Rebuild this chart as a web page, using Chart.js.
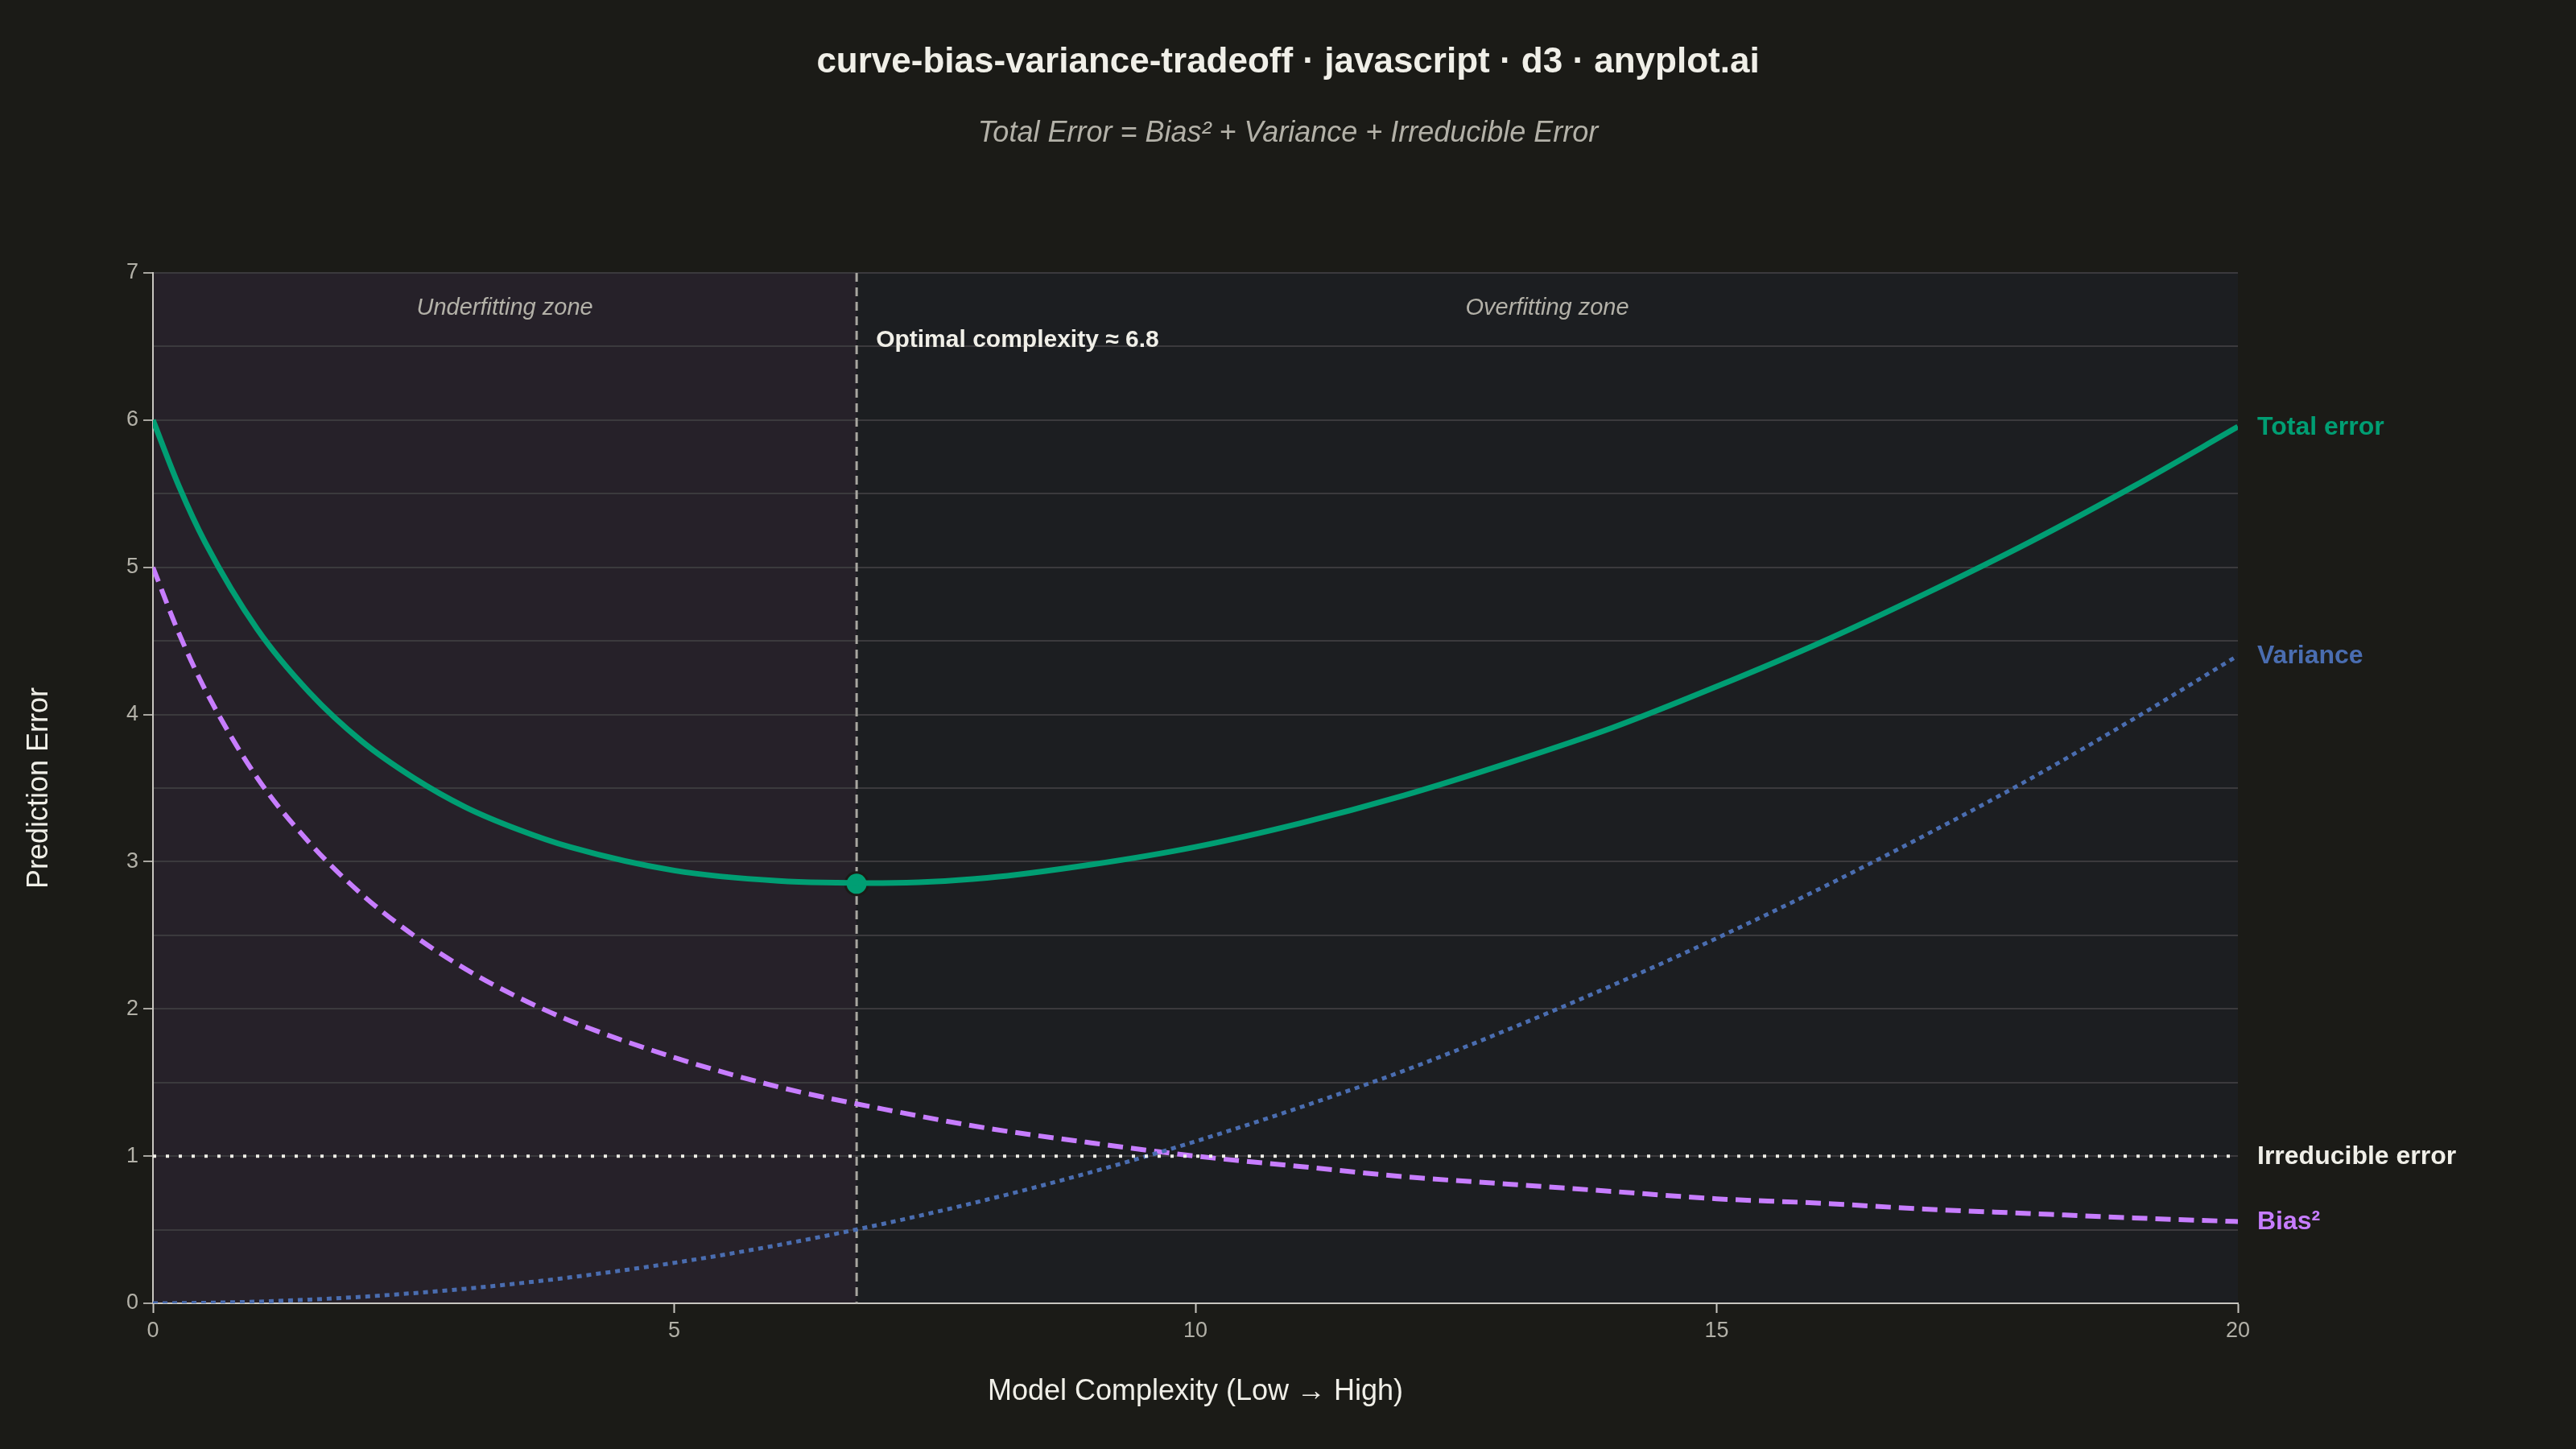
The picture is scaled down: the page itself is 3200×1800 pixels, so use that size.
<!DOCTYPE html>
<html>
<head>
<meta charset="utf-8">
<script src="https://cdn.jsdelivr.net/npm/chart.js@4.4.1/dist/chart.umd.min.js"></script>
<style>
html,body{margin:0;padding:0;background:#1b1b17;}
canvas{display:block;}
</style>
</head>
<body>
<canvas id="c" width="3200" height="1800"></canvas>
<script>
// ---- data ----
const complexity = [0, 0.25, 0.5, 1, 1.5, 2, 2.5, 3, 3.5, 4, 5, 6, 7, 8, 9, 10, 11, 12, 13, 14, 15, 16, 17, 18, 19, 20];
const biasSq     = [5.00, 4.55, 4.17, 3.57, 3.13, 2.78, 2.50, 2.27, 2.08, 1.92, 1.67, 1.47, 1.32, 1.19, 1.09, 1.00, 0.93, 0.86, 0.81, 0.76, 0.71, 0.68, 0.64, 0.61, 0.58, 0.555];
const variance   = [0.00, 0.001, 0.003, 0.011, 0.025, 0.044, 0.069, 0.099, 0.135, 0.176, 0.275, 0.396, 0.539, 0.704, 0.891, 1.10, 1.33, 1.58, 1.86, 2.16, 2.48, 2.82, 3.18, 3.56, 3.97, 4.40];
const totalError = [6.00, 5.55, 5.17, 4.58, 4.15, 3.82, 3.57, 3.37, 3.22, 3.10, 2.94, 2.87, 2.855, 2.89, 2.98, 3.10, 3.26, 3.45, 3.67, 3.91, 4.19, 4.49, 4.82, 5.17, 5.55, 5.955];
const irreducibleX = [0, 20];
const irreducible  = [1, 1];
const optimalX = 6.75;
const optimalY = 2.85;
const optimalLabel = '6.8';
const xTicks = [0, 5, 10, 15, 20];
const yTicks = [0, 1, 2, 3, 4, 5, 6, 7];

const seriesNames = ['Total error', 'Variance', 'Irreducible error', 'Bias²'];
const titleText = 'curve-bias-variance-tradeoff · javascript · d3 · anyplot.ai';
const subtitleText = 'Total Error = Bias² + Variance + Irreducible Error';

// ---- styles ----
const FONT = "'Liberation Sans', Arial, sans-serif";
const BG = '#1b1b17';
const C_TOTAL = '#009e73';
const C_BIAS = '#c77dff';
const C_VAR = '#4a6db0';
const C_IRR = '#f0efe8';
const C_TEXT = '#f0efe8';
const C_MUTED = '#b3b1a8';

const pts = (xs, ys) => xs.map((x, i) => ({x: x, y: ys[i]}));

const bgPlugin = {
  id: 'bgzones',
  beforeDraw(chart) {
    const ctx = chart.ctx, a = chart.chartArea, xs = chart.scales.x;
    ctx.save();
    ctx.fillStyle = BG;
    ctx.fillRect(0, 0, chart.width, chart.height);
    const xo = xs.getPixelForValue(optimalX);
    ctx.fillStyle = '#262129';
    ctx.fillRect(a.left, a.top, xo - a.left, a.bottom - a.top);
    ctx.fillStyle = '#1c1e21';
    ctx.fillRect(xo, a.top, a.right - xo, a.bottom - a.top);
    ctx.restore();
  },
  beforeDatasetsDraw(chart) {
    const ctx = chart.ctx, a = chart.chartArea, xs = chart.scales.x;
    const xo = xs.getPixelForValue(optimalX);
    ctx.save();
    ctx.strokeStyle = '#a8a6a0';
    ctx.lineWidth = 3;
    ctx.setLineDash([11, 7]);
    ctx.beginPath();
    ctx.moveTo(xo, a.top);
    ctx.lineTo(xo, a.bottom);
    ctx.stroke();
    ctx.restore();
  },
  afterDraw(chart) {
    const ctx = chart.ctx, a = chart.chartArea, xs = chart.scales.x, ys = chart.scales.y;
    ctx.save();
    // titles
    ctx.textAlign = 'center';
    ctx.textBaseline = 'middle';
    ctx.fillStyle = C_TEXT;
    ctx.font = 'bold 44px ' + FONT;
    ctx.fillText(titleText, 1600, 78);
    ctx.fillStyle = C_MUTED;
    ctx.font = 'italic 36px ' + FONT;
    ctx.fillText(subtitleText, 1600, 166);
    // axis titles
    ctx.fillStyle = C_TEXT;
    ctx.font = '36px ' + FONT;
    ctx.fillText('Model Complexity (Low → High)', (a.left + a.right) / 2, 1729);
    ctx.save();
    ctx.translate(49, (a.top + a.bottom) / 2);
    ctx.rotate(-Math.PI / 2);
    ctx.fillText('Prediction Error', 0, 0);
    ctx.restore();
    // zone labels
    const xo = xs.getPixelForValue(optimalX);
    ctx.fillStyle = C_MUTED;
    ctx.font = 'italic 29px ' + FONT;
    ctx.fillText('Underfitting zone', (a.left + xo) / 2, a.top + 44);
    ctx.fillText('Overfitting zone', (xo + a.right) / 2, a.top + 44);
    // optimal label
    ctx.textAlign = 'left';
    ctx.fillStyle = C_TEXT;
    ctx.font = 'bold 30px ' + FONT;
    ctx.fillText('Optimal complexity ≈ ' + optimalLabel, xo + 24, a.top + 84);
    // end labels
    ctx.font = 'bold 32px ' + FONT;
    const ends = [
      [seriesNames[0], totalError[totalError.length - 1], C_TOTAL],
      [seriesNames[1], variance[variance.length - 1], C_VAR],
      [seriesNames[2], irreducible[irreducible.length - 1], C_TEXT],
      [seriesNames[3], biasSq[biasSq.length - 1], C_BIAS]
    ];
    ends.forEach(e => {
      ctx.fillStyle = e[2];
      ctx.fillText(e[0], a.right + 24, ys.getPixelForValue(e[1]) + 1);
    });
    ctx.restore();
  }
};

new Chart(document.getElementById('c'), {
  type: 'line',
  data: {
    datasets: [
      {label: seriesNames[2], data: pts(irreducibleX, irreducible), borderColor: C_IRR, borderWidth: 4, borderDash: [4, 12], pointRadius: 0, tension: 0},
      {label: seriesNames[1], data: pts(complexity, variance), borderColor: C_VAR, borderWidth: 5, borderDash: [6, 6], pointRadius: 0, cubicInterpolationMode: 'monotone'},
      {label: seriesNames[3], data: pts(complexity, biasSq), borderColor: C_BIAS, borderWidth: 6, borderDash: [19, 10], pointRadius: 0, cubicInterpolationMode: 'monotone'},
      {label: seriesNames[0], data: pts(complexity, totalError), borderColor: C_TOTAL, borderWidth: 7, pointRadius: 0, cubicInterpolationMode: 'monotone'},
      {label: 'Optimal', data: [{x: optimalX, y: optimalY}], showLine: false, pointRadius: 14, pointBackgroundColor: C_TOTAL, pointBorderColor: BG, pointBorderWidth: 3}
    ]
  },
  options: {
    responsive: false,
    devicePixelRatio: 1,
    animation: false,
    events: [],
    layout: {padding: {top: 339, right: 420, left: 0, bottom: 0}},
    plugins: {legend: {display: false}, tooltip: {enabled: false}},
    scales: {
      x: {
        type: 'linear', min: 0, max: 20,
        afterFit: s => { s.height = 181; },
        afterBuildTicks: s => { s.ticks = xTicks.map(v => ({value: v})); },
        grid: {drawOnChartArea: false, tickLength: 12, tickColor: '#c8c6c0', tickWidth: 2},
        border: {color: '#c8c6c0', width: 2},
        ticks: {color: C_MUTED, font: {family: FONT, size: 27}, padding: 6, maxRotation: 0}
      },
      y: {
        type: 'linear', min: 0, max: 7,
        afterFit: s => { s.width = 190; },
        ticks: {
          stepSize: 0.5,
          color: C_MUTED, font: {family: FONT, size: 27}, padding: 6,
          callback: v => (yTicks.indexOf(v) >= 0 ? String(v) : '')
        },
        grid: {
          color: '#3b3a3d', lineWidth: 2, tickLength: 12, tickWidth: 2,
          tickColor: ctx => (yTicks.indexOf(ctx.tick.value) >= 0 ? '#a8a6a0' : 'rgba(0,0,0,0)')
        },
        border: {color: '#c8c6c0', width: 2}
      }
    }
  },
  plugins: [bgPlugin]
});
</script>
</body>
</html>
